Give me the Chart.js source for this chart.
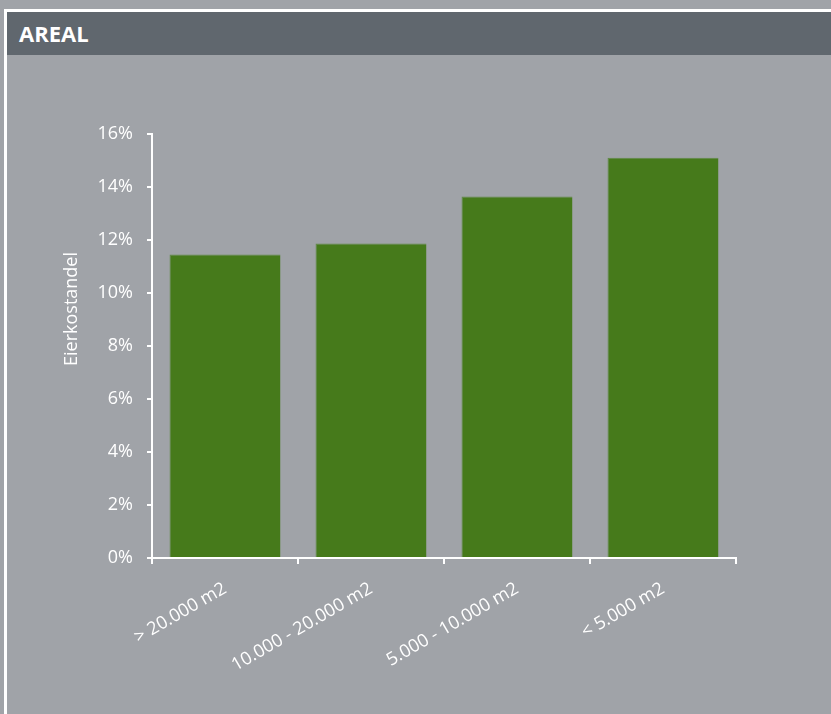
<!DOCTYPE html>
<html>
<head>
<meta charset="utf-8">
<script src="https://cdn.jsdelivr.net/npm/chart.js@4"></script>
<style>
  html, body { margin: 0; padding: 0; }
  body { width: 831px; height: 714px; background: #a0a3a8; position: relative; overflow: hidden; font-family: "Open Sans", sans-serif; }
  .frame { position: absolute; left: 4px; top: 9px; width: 900px; height: 800px; border-left: 3px solid #fff; border-top: 3px solid #fff; }
  .header { position: absolute; left: 7px; top: 12px; right: 0; height: 43px; background: #60676e; color: #fff; font-weight: 700; font-size: 22px; line-height: 43px; padding-left: 12px; }
  #chart { position: absolute; left: 0; top: 56px; }
</style>
</head>
<body>
<div class="frame"></div>
<div class="header">AREAL</div>
<canvas id="chart" width="831" height="658"></canvas>
<script>
const categories = ['> 20.000 m2', '10.000 - 20.000 m2', '5.000 - 10.000 m2', '< 5.000 m2'];
const shares = [11.45, 11.87, 13.64, 15.1];
const yTicks = [0, 2, 4, 6, 8, 10, 12, 14, 16];
const yTitle = 'Eierkostandel';

Chart.defaults.font.family = '"Open Sans", sans-serif';
Chart.defaults.color = '#fff';

// vertical axis title, placed a bit above the axis middle
const axisTitle = {
    id: 'axisTitle',
    afterDraw(chart) {
        const ctx = chart.ctx;
        ctx.save();
        ctx.translate(72, 253);
        ctx.rotate(-Math.PI / 2);
        ctx.font = '18px "Open Sans", sans-serif';
        ctx.fillStyle = '#fff';
        ctx.textAlign = 'center';
        ctx.textBaseline = 'middle';
        ctx.fillText(yTitle, 0, 0);
        ctx.restore();
    }
};

new Chart(document.getElementById('chart'), {
    type: 'bar',
    data: {
        labels: categories,
        datasets: [{
            data: shares,
            backgroundColor: '#467a1b',
            borderColor: '#5f8a45',
            borderWidth: { top: 1, left: 1, right: 0, bottom: 0 },
            barPercentage: 0.76,
            categoryPercentage: 1
        }]
    },
    options: {
        responsive: false,
        animation: false,
        layout: { padding: { left: 0, top: 78, right: 95, bottom: 6 } },
        plugins: { legend: { display: false }, tooltip: { enabled: false } },
        scales: {
            x: {
                afterFit(scale) { scale.height = 150; },
                grid: { offset: true, drawOnChartArea: false, drawTicks: true, tickLength: 6, color: '#fff', lineWidth: 2 },
                border: { color: '#fff', width: 2 },
                ticks: { minRotation: 30, maxRotation: 30, padding: 14, font: { size: 18 }, color: '#fff' }
            },
            y: {
                min: 0,
                max: 16,
                afterFit(scale) { scale.width = 152; },
                afterBuildTicks(scale) { scale.ticks = yTicks.map(v => ({ value: v })); },
                grid: { drawOnChartArea: false, drawTicks: true, tickLength: 5, color: '#fff', lineWidth: 2 },
                border: { color: '#fff', width: 2 },
                ticks: { padding: 14, font: { size: 18 }, color: '#fff', callback: v => v + '%' }
            }
        }
    },
    plugins: [axisTitle]
});
</script>
</body>
</html>
